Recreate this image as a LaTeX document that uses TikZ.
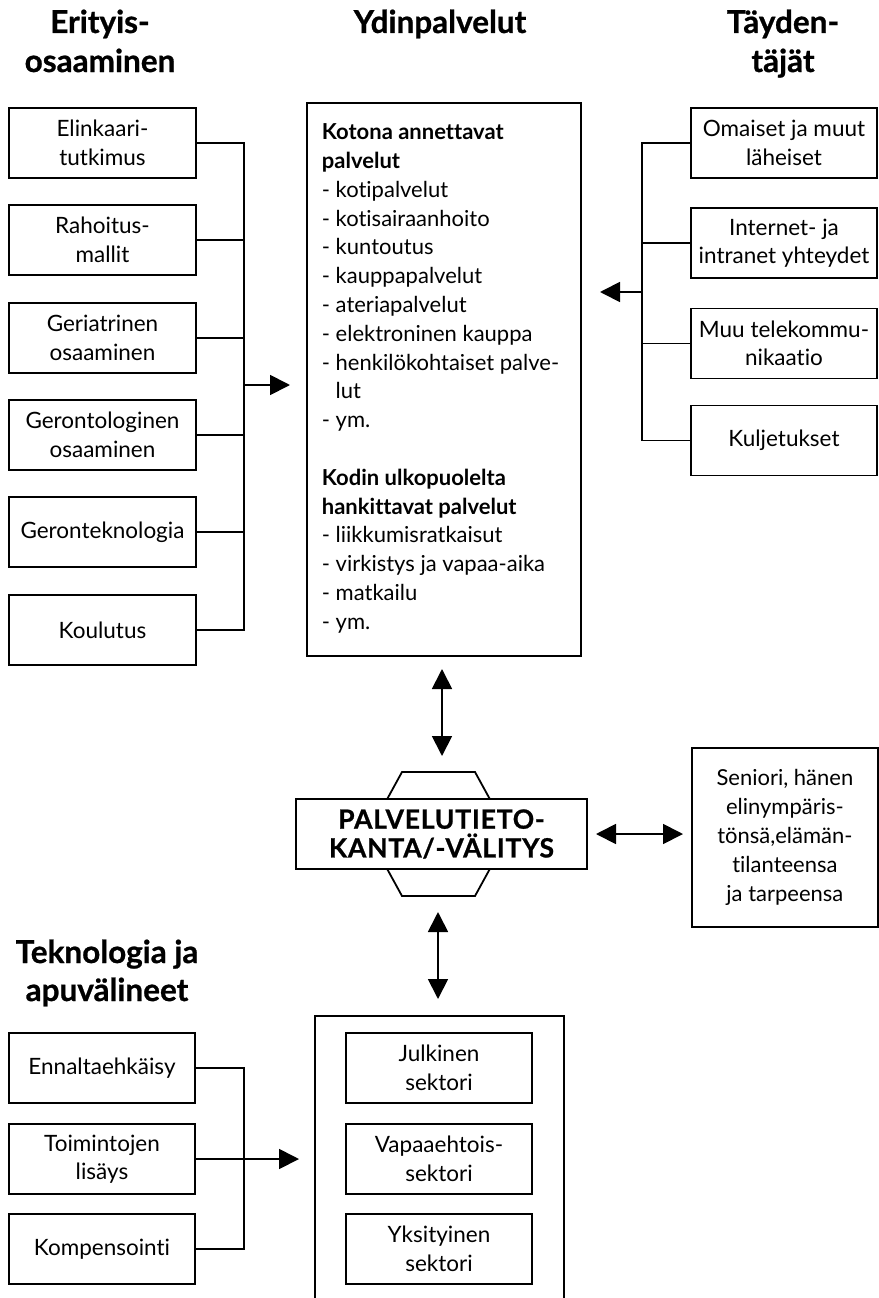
\documentclass[tikz,border=0pt]{standalone}
\usepackage{fontspec}
\setmainfont{Lato}[Ligatures={NoCommon,NoRequired,NoContextual}]
\usetikzlibrary{arrows.meta}
\newcommand{\bodyfont}{\fontsize{22.5}{28.5}\selectfont}
\newcommand{\corefont}{\fontsize{22}{28.8}\selectfont}
\newcommand{\headfont}{\fontsize{31.5}{38}\selectfont\bfseries\addfontfeature{FakeBold=0.8}}
\newcommand{\dbfont}{\fontsize{26.5}{28.7}\selectfont\bfseries\addfontfeature{LetterSpace=3,FakeBold=0.8}}
\begin{document}
\begin{tikzpicture}[x=1pt,y=-1pt,line width=1.8pt,
  box/.style={draw,line width=1.8pt,minimum width=187pt,minimum height=70pt,
    inner sep=0pt,align=center,font=\bodyfont},
  head/.style={anchor=base,inner sep=0pt,font=\headfont},
  arr/.style={-{Triangle[length=20pt,width=20pt]}},
  darr/.style={{Triangle[length=20pt,width=20pt]}-{Triangle[length=20pt,width=20pt]}}]
\useasboundingbox (0,0) rectangle (878,1298);

% column headings
\node[head] (h1a) at (100,33) {Erityis-};
\node[head] (h1b) at (100,72) {osaaminen};
\node[head] (h2) at (440,33) {Ydinpalvelut};
\node[head] (h3a) at (783,33) {Täyden-};
\node[head] (h3b) at (783,72) {täjät};
\node[head] (h4a) at (107,963) {Teknologia ja};
\node[head] (h4b) at (107,1001) {apuvälineet};

% special expertise
\node[box] (e1) at (102.5,143) {Elinkaari-\\tutkimus};
\node[box] (e2) at (102.5,240) {Rahoitus-\\mallit};
\node[box] (e3) at (102.5,338) {Geriatrinen\\osaaminen};
\node[box] (e4) at (102.5,435) {Gerontologinen\\osaaminen};
\node[box] (e5) at (102.5,532) {Geronteknologia};
\node[box] (e6) at (102.5,630) {Koulutus};
\coordinate (busE) at (244,385);
\coordinate (tipE) at (290,385);
\draw (e1.east) -- (e1.east -| busE) -- (e6.east -| busE) -- (e6.east);
\foreach \n in {e2,e3,e4,e5} \draw (\n.east) -- (\n.east -| busE);
\draw[arr] (busE) -- (tipE);

% core services
\node[draw,anchor=north west,minimum width=274pt,minimum height=553pt,inner sep=0pt] (core) at (306,102) {};
\node[anchor=west,inner sep=0pt,align=left,font=\corefont] (coretext) at (321,378.5)
 {\textbf{Kotona annettavat}\\
  \textbf{palvelut}\\
  - kotipalvelut\\
  - kotisairaanhoito\\
  - kuntoutus\\
  - kauppapalvelut\\
  - ateriapalvelut\\
  - elektroninen kauppa\\
  - henkilökohtaiset palve-\\
  \phantom{- }lut\\
  - ym.\\[28.8pt]
  \textbf{Kodin ulkopuolelta}\\
  \textbf{hankittavat palvelut}\\
  - liikkumisratkaisut\\
  - virkistys ja vapaa-aika\\
  - matkailu\\
  - ym.};

% complementary parties
\node[box,minimum width=186pt] (c1) at (784,143) {Omaiset ja muut\\läheiset};
\node[box,minimum width=186pt] (c2) at (784,243) {Internet- ja\\intranet yhteydet};
\node[box,minimum width=186pt] (c3) at (784,343.5) {Muu telekommu-\\nikaatio};
\node[box,minimum width=186pt] (c4) at (784,440.5) {Kuljetukset};
\coordinate (busC) at (642,292);
\coordinate (tipC) at (600,292);
\draw (c1.west) -- (c1.west -| busC) -- (c4.west -| busC) -- (c4.west);
\foreach \n in {c2,c3} \draw (\n.west) -- (\n.west -| busC);
\draw[arr] (busC) -- (tipC);

% service database
\coordinate (hxL) at (368,834);
\coordinate (hxR) at (509,834);
\draw (hxL) -- (402,772) -- (475,772) -- (hxR) -- (475,896) -- (402,896) -- cycle;
\node[draw,fill=white,minimum width=291pt,minimum height=70pt,inner sep=0pt,
  align=center,font=\dbfont] (db) at (441.5,834) {PALVELUTIETO-\\KANTA/-VÄLITYS};

\coordinate (u1) at (442,669);
\coordinate (u2) at (442,756);
\draw[darr] (u1) -- (u2);

% senior
\node[box,minimum width=186pt,minimum height=179pt,anchor=north west,
  font=\fontsize{22}{29.2}\selectfont] (sen) at (691,747)
 {Seniori, hänen\\elinympäris-\\tönsä,elämän-\\tilanteensa\\ja tarpeensa};
\coordinate (s1) at (596,834);
\coordinate (s2) at (683,834);
\draw[darr] (s1) -- (s2);

\coordinate (d1) at (438,912);
\coordinate (d2) at (438,999);
\draw[darr] (d1) -- (d2);

% technology and aids
\node[box,minimum width=186pt] (t1) at (102,1068) {Ennaltaehkäisy};
\node[box,minimum width=186pt] (t2) at (102,1159) {Toimintojen\\lisäys};
\node[box,minimum width=186pt] (t3) at (102,1249) {Kompensointi};
\coordinate (busT) at (244,1159);
\coordinate (tipT) at (299,1159);
\draw (t1.east) -- (t1.east -| busT) -- (t3.east -| busT) -- (t3.east);
\draw[arr] (t2.east) -- (tipT);

% sectors
\node[draw,anchor=north west,minimum width=249pt,minimum height=300pt,inner sep=0pt] (sectors) at (314,1015) {};
\node[box,minimum width=186pt] (s1b) at (439,1068) {Julkinen\\sektori};
\node[box,minimum width=186pt] (s2b) at (439,1159) {Vapaaehtois-\\sektori};
\node[box,minimum width=186pt] (s3b) at (439,1249) {Yksityinen\\sektori};
\end{tikzpicture}
\end{document}
